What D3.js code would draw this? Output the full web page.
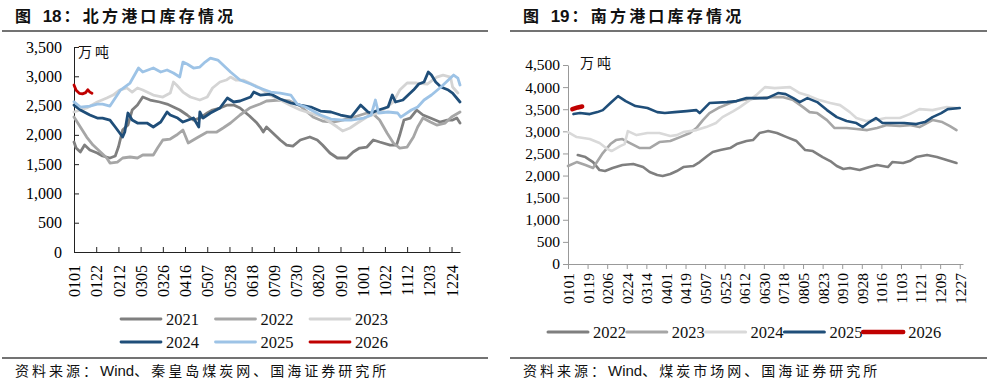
<!DOCTYPE html>
<html>
<head>
<meta charset="utf-8">
<script src="https://cdn.jsdelivr.net/npm/d3@7"></script>
<style>
  body { margin: 0; background: #fff; }
  svg { display: block; }
</style>
</head>
<body>
<svg id="chart" width="991" height="388"></svg>
<script>
// ---- 北方港口 (day of year, 万吨) ----
const northYears = ['2021', '2022', '2023', '2024', '2025', '2026']
const north2021 = [[0,1878],[2,1775],[6,1707],[10,1826],[15,1741],[22,1690],[27,1639],[34,1605],[39,1639],[42,1792],[46,2083],[51,2168],[55,2424],[60,2509],[65,2646],[72,2595],[81,2561],[88,2526],[94,2475],[100,2424],[107,2339],[113,2253],[119,2287],[126,2373],[131,2424],[138,2458],[145,2509],[151,2509],[157,2458],[166,2322],[173,2202],[176,2134],[179,2048],[182,2134],[188,2031],[195,1912],[201,1826],[207,1809],[214,1912],[223,1963],[230,1912],[235,1826],[242,1690],[249,1605],[258,1605],[264,1707],[270,1775],[277,1792],[283,1912],[289,1878],[299,1826],[305,1826],[308,1997],[312,2253],[318,2287],[324,2424],[330,2339],[337,2287],[346,2219],[353,2253],[358,2253],[362,2287],[365,2202]]
const north2022 = [[0,2304],[3,2219],[6,2134],[12,1963],[18,1826],[25,1707],[31,1605],[34,1519],[41,1536],[46,1605],[53,1622],[60,1605],[65,1656],[75,1656],[79,1775],[84,1912],[91,1929],[97,1997],[103,2083],[108,1861],[116,1946],[126,2048],[135,2048],[141,2117],[148,2202],[157,2339],[166,2458],[176,2526],[182,2578],[195,2595],[204,2578],[214,2492],[226,2304],[235,2236],[245,2219],[254,2253],[268,2322],[277,2373],[283,2356],[289,2253],[296,2031],[302,1861],[308,1775],[315,1792],[321,1963],[325,2134],[330,2287],[337,2219],[343,2168],[351,2202],[357,2304],[365,2390]]
const north2023 = [[0,2390],[6,2424],[12,2458],[22,2561],[31,2629],[37,2680],[43,2765],[50,2800],[55,2731],[60,2800],[65,2765],[75,2680],[84,2646],[91,2714],[94,2902],[97,2851],[103,2731],[110,2646],[119,2595],[126,2646],[131,2800],[138,2902],[144,2936],[148,2987],[153,2936],[160,2936],[166,2885],[176,2800],[185,2680],[195,2595],[204,2509],[214,2424],[223,2373],[233,2322],[242,2219],[249,2134],[254,2066],[261,2117],[268,2202],[277,2304],[287,2373],[296,2475],[302,2561],[308,2765],[315,2885],[324,2885],[334,2868],[343,2987],[349,3021],[356,2987],[358,2817],[363,2714]]
const north2024 = [[0,2509],[6,2424],[15,2339],[22,2287],[27,2287],[34,2253],[39,2134],[46,1963],[48,2048],[51,2373],[55,2253],[60,2202],[69,2202],[75,2134],[82,2219],[88,2390],[91,2339],[98,2287],[103,2219],[113,2287],[118,2134],[119,2390],[122,2287],[129,2373],[138,2458],[145,2629],[151,2561],[157,2578],[167,2646],[170,2731],[176,2680],[186,2697],[195,2612],[205,2544],[214,2509],[224,2475],[233,2407],[243,2390],[252,2339],[262,2304],[271,2509],[274,2458],[278,2390],[281,2373],[288,2424],[297,2475],[301,2680],[304,2561],[311,2595],[316,2680],[321,2765],[326,2868],[331,2902],[335,3073],[338,3021],[342,2902],[347,2817],[354,2765],[358,2714],[365,2561]]
const north2025 = [[0,2566],[6,2475],[15,2492],[22,2526],[27,2526],[34,2492],[44,2765],[53,2885],[61,3141],[65,3073],[75,3141],[82,3073],[88,3107],[94,3056],[100,2987],[103,3243],[107,3209],[113,3141],[119,3158],[124,3243],[129,3311],[136,3277],[143,3158],[148,3073],[157,2936],[167,2868],[173,2817],[186,2731],[195,2714],[205,2680],[211,2526],[219,2475],[233,2339],[243,2270],[255,2253],[262,2253],[274,2287],[281,2339],[285,2595],[288,2373],[297,2390],[306,2373],[309,2304],[319,2424],[325,2475],[331,2595],[338,2680],[347,2817],[354,2936],[359,3021],[363,2970],[365,2851]]
const north2026 = [[0,2850],[2,2760],[5,2710],[8,2700],[11,2720],[13,2770],[15,2730],[17,2710]]
const northTickDays = [0,21,42,63,84,105,126,147,168,189,210,231,252,273,294,315,336,357]
const northTickLabels = ['0101','0122','0212','0305','0326','0416','0507','0528','0618','0709','0730','0820','0910','1001','1022','1112','1203','1224']
const northYTicks = [0,500,1000,1500,2000,2500,3000,3500]

// ---- 南方港口 (day of year, 万吨) ----
const southYears = ['2022', '2023', '2024', '2025', '2026']
const south2022 = [[9,2463],[16,2418],[23,2305],[29,2124],[34,2102],[41,2170],[50,2237],[60,2260],[69,2192],[75,2079],[82,2011],[87,1989],[94,2034],[100,2102],[106,2192],[115,2215],[121,2305],[128,2441],[133,2531],[140,2576],[149,2622],[155,2712],[164,2780],[170,2802],[176,2961],[184,3006],[192,2961],[201,2870],[210,2780],[218,2576],[225,2554],[234,2418],[241,2328],[247,2215],[253,2147],[259,2170],[268,2124],[277,2192],[284,2237],[294,2192],[298,2305],[308,2283],[314,2328],[320,2418],[330,2463],[339,2418],[351,2328],[357,2283]]
const south2023 = [[0,2215],[8,2305],[16,2237],[23,2170],[32,2509],[39,2712],[44,2802],[50,2825],[57,2735],[66,2622],[75,2622],[84,2757],[94,2780],[103,2870],[112,2961],[118,3074],[124,3254],[130,3413],[138,3526],[149,3639],[158,3706],[167,3729],[176,3752],[188,3774],[197,3774],[207,3706],[216,3548],[222,3435],[229,3413],[238,3254],[245,3074],[256,3074],[265,3051],[275,3028],[284,3074],[293,3141],[305,3119],[314,3141],[323,3096],[335,3254],[344,3209],[351,3119],[357,3028]]
const south2024 = [[0,2983],[8,2870],[20,2825],[29,2735],[35,2622],[40,2554],[48,2667],[52,2712],[55,3006],[63,2915],[73,2961],[84,2961],[94,2893],[100,2915],[106,2983],[118,3028],[127,3096],[136,3187],[142,3322],[152,3458],[158,3548],[167,3706],[173,3819],[181,4000],[190,3978],[204,4000],[213,3865],[222,3797],[231,3706],[241,3639],[250,3593],[259,3435],[265,3300],[274,3232],[283,3254],[292,3300],[305,3300],[314,3390],[323,3503],[335,3480],[348,3548],[357,3526]]
const south2025 = [[5,3390],[11,3413],[20,3390],[27,3435],[32,3480],[39,3639],[46,3797],[53,3684],[62,3571],[73,3526],[82,3435],[89,3413],[98,3435],[109,3458],[118,3480],[121,3413],[130,3639],[146,3661],[155,3684],[164,3752],[173,3752],[183,3752],[193,3865],[200,3842],[207,3752],[213,3661],[220,3752],[229,3661],[238,3480],[247,3322],[256,3232],[265,3187],[271,3096],[277,3209],[283,3300],[289,3187],[298,3187],[309,3187],[320,3164],[328,3209],[335,3322],[343,3413],[349,3503],[360,3526]]
const south2026 = [[4,3500],[9,3540],[13,3560]]
const southTickDays = [0,18,36,54,72,90,108,126,144,162,180,198,216,234,252,270,288,306,324,342,360]
const southTickLabels = ['0101','0119','0206','0224','0314','0401','0419','0507','0525','0612','0630','0718','0805','0823','0910','0928','1016','1103','1121','1209','1227']
const southYTicks = [0,500,1000,1500,2000,2500,3000,3500,4000,4500]

const serif = '"Liberation Serif", "Times New Roman", serif'
const cjk = '"Noto Sans CJK SC", sans-serif'

const svg = d3.select('#chart')

function header(x0, x1, num, title, source) {
  let t = svg.append('text')
      .attr('x', x0 + 13)
      .attr('y', 22)
      .style('font-family', cjk)
      .style('font-size', '16px')
      .style('font-weight', 'bold')
      .style('fill', '#111')
  t.append('tspan').style('letter-spacing', '3px').text('图 ')
  t.append('tspan').attr('dx', 2).style('font-family', '"Liberation Sans", Arial, sans-serif').style('font-size', '17px').text(num)
  t.append('tspan').attr('dx', 2).style('letter-spacing', '3.2px').text('：' + title)

  svg.append('line')
      .attr('x1', x0).attr('x2', x1)
      .attr('y1', 31).attr('y2', 31)
      .style('stroke', '#444').style('stroke-width', 1.5)

  svg.append('line')
      .attr('x1', x0).attr('x2', x1)
      .attr('y1', 358).attr('y2', 358)
      .style('stroke', '#444').style('stroke-width', 1.5)

  let s = svg.append('text')
      .attr('x', x0 + 13)
      .attr('y', 376)
      .style('font-family', cjk)
      .style('font-size', '14px')
      .style('fill', '#111')
  s.append('tspan').style('letter-spacing', '3px').text('资料来源：')
  s.append('tspan').style('font-family', '"Liberation Sans", Arial, sans-serif').style('font-size', '15px').text('Wind')
  s.append('tspan').style('letter-spacing', '3px').text(source)
}

function panel(cfg) {
  let x = d3.scaleLinear().domain(cfg.xDomain).range(cfg.xRange)
  let y = d3.scaleLinear().domain(cfg.yDomain).range(cfg.yRange)

  let yAxis = d3.axisLeft(y)
      .tickValues(cfg.yTicks)
      .tickFormat(d3.format(','))
      .tickSizeInner(cfg.inward ? -5 : 5)
      .tickSizeOuter(0)
      .tickPadding(cfg.yPad)

  let xAxis = d3.axisBottom(x)
      .tickValues(cfg.tickDays)
      .tickFormat((d, i) => cfg.tickLabels[i])
      .tickSizeInner(cfg.inward ? -5 : 5)
      .tickSizeOuter(0)

  let gy = svg.append('g')
      .attr('transform', `translate(${ cfg.xRange[0] },0)`)
      .call(yAxis)
  let gx = svg.append('g')
      .attr('transform', `translate(0,${ cfg.yRange[0] })`)
      .call(xAxis)

  ;[gx, gy].forEach(g => {
    g.selectAll('path, line').style('stroke', cfg.axisColor).style('stroke-width', 1)
    g.selectAll('text')
        .style('font-family', serif)
        .style('font-size', cfg.fontSize)
        .style('fill', '#000')
  })

  gx.selectAll('text')
      .attr('transform', 'rotate(-90)')
      .attr('x', -cfg.xPad)
      .attr('y', 0)
      .attr('dy', '0.35em')
      .style('text-anchor', 'end')

  svg.append('text')
      .attr('x', cfg.unitX)
      .attr('y', cfg.unitY)
      .style('font-family', cjk)
      .style('font-size', '14px')
      .style('letter-spacing', '3px')
      .style('fill', '#111')
      .text('万吨')

  let line = d3.line()
      .x(d => x(d[0]))
      .y(d => y(d[1]))

  cfg.series.forEach((s, i) => {
    svg.append('path')
        .datum(s)
        .attr('d', line)
        .style('fill', 'none')
        .style('stroke', cfg.colors[i])
        .style('stroke-width', cfg.widths[i])
        .style('stroke-linejoin', 'round')
        .style('stroke-linecap', 'round')
  })

  // legend
  let lg = svg.append('g')
  let items = lg.selectAll('g')
    .data(cfg.years)
    .enter().append('g')
      .attr('transform', (d, i) => `translate(${ cfg.legendX(i) },${ cfg.legendY(i) })`)

  items.append('line')
      .attr('x1', 0).attr('x2', 40)
      .attr('y1', 0).attr('y2', 0)
      .style('stroke', (d, i) => cfg.colors[i])
      .style('stroke-width', (d, i) => cfg.legendWidths[i])
      .style('stroke-linecap', 'round')

  items.append('text')
      .attr('x', 45)
      .attr('y', 0)
      .attr('dy', '0.35em')
      .style('font-family', serif)
      .style('font-size', '16.5px')
      .style('fill', '#111')
      .text(d => d)
}

header(2, 488, '18', '北方港口库存情况', '、秦皇岛煤炭网、国海证券研究所')
header(510, 987, '19', '南方港口库存情况', '、煤炭市场网、国海证券研究所')

panel({
  xDomain: [0, 365], xRange: [74, 460],
  yDomain: [0, 3500], yRange: [252, 47],
  yTicks: northYTicks, tickDays: northTickDays, tickLabels: northTickLabels,
  inward: true, yPad: 12, xPad: 13, fontSize: '16px', axisColor: '#222',
  unitX: 78, unitY: 57,
  years: northYears,
  series: [north2021, north2022, north2023, north2024, north2025, north2026],
  colors: ['#7f7f7f', '#a6a6a6', '#d4d4d4', '#1f4e79', '#9dc3e6', '#c00000'],
  widths: [2.8, 2.8, 2.8, 2.8, 2.8, 2.8],
  legendWidths: [2.8, 2.8, 2.8, 2.8, 2.8, 2.8],
  legendX: i => 121 + (i % 3) * 94.5,
  legendY: i => i < 3 ? 319 : 342
})

panel({
  xDomain: [0, 363], xRange: [568, 963],
  yDomain: [0, 4500], yRange: [264, 65],
  yTicks: southYTicks, tickDays: southTickDays, tickLabels: southTickLabels,
  inward: false, yPad: 3, xPad: 9, fontSize: '15.5px', axisColor: '#999',
  unitX: 580, unitY: 68,
  years: southYears,
  series: [south2022, south2023, south2024, south2025, south2026],
  colors: ['#7f7f7f', '#a6a6a6', '#d9d9d9', '#1f4e79', '#c00000'],
  widths: [2.6, 2.6, 2.6, 2.6, 4.5],
  legendWidths: [3, 3, 3, 3, 4.5],
  legendX: i => 548 + i * 78.8,
  legendY: i => 332
})
</script>
</body>
</html>
